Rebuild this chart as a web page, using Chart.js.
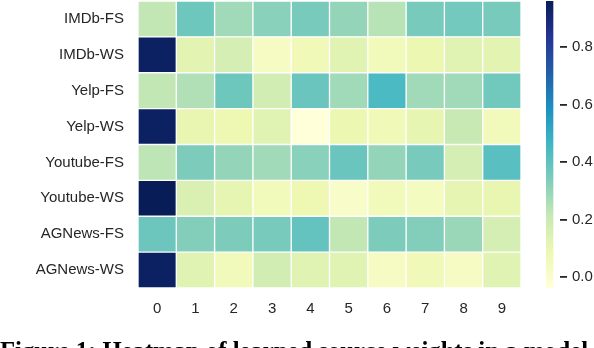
<!DOCTYPE html>
<html>
<head>
<meta charset="utf-8">
<script src="https://cdn.jsdelivr.net/npm/chart.js@4.4.1/dist/chart.umd.min.js"></script>
<style>
  html, body { margin: 0; padding: 0; background: #ffffff; overflow: hidden; }
  #wrap { position: relative; width: 594px; height: 348px; overflow: hidden; background: #fff; }
  canvas { position: absolute; left: 0; top: 0; }
  #caption { position: absolute; left: 0; top: 338.5px; white-space: nowrap;
    font-family: 'Liberation Serif', 'Times New Roman', serif; font-weight: bold;
    font-size: 24.7px; line-height: 24.7px; color: #000; }
</style>
</head>
<body>
<div id="wrap">
  <canvas id="heat" width="594" height="348"></canvas>
  <canvas id="cbar" width="594" height="348"></canvas>
  <div id="caption">Figure 1: Heatmap of learned source weights in a model learned</div>
</div>
<script>
// ---- data ----
const rowLabels = ['IMDb-FS', 'IMDb-WS', 'Yelp-FS', 'Yelp-WS', 'Youtube-FS', 'Youtube-WS', 'AGNews-FS', 'AGNews-WS'];
const colLabels = ['0', '1', '2', '3', '4', '5', '6', '7', '8', '9'];
const imdbFS    = [0.22, 0.37, 0.28, 0.32, 0.35, 0.30, 0.24, 0.35, 0.36, 0.35];
const imdbWS    = [0.94, 0.12, 0.17, 0.035, 0.063, 0.13, 0.057, 0.09, 0.13, 0.12];
const yelpFS    = [0.22, 0.25, 0.37, 0.18, 0.38, 0.28, 0.44, 0.28, 0.28, 0.365];
const yelpWS    = [0.94, 0.10, 0.08, 0.13, -0.037, 0.09, 0.07, 0.11, 0.21, 0.06];
const youtubeFS = [0.23, 0.34, 0.30, 0.28, 0.32, 0.38, 0.30, 0.35, 0.17, 0.41];
const youtubeWS = [0.959, 0.15, 0.11, 0.055, 0.08, 0.013, 0.055, 0.04, 0.11, 0.10];
const agnewsFS  = [0.375, 0.33, 0.34, 0.35, 0.39, 0.22, 0.34, 0.33, 0.29, 0.17];
const agnewsWS  = [0.94, 0.13, 0.055, 0.18, 0.13, 0.13, 0.035, 0.07, 0.035, 0.13];
const colorbarTicks = [0.0, 0.2, 0.4, 0.6, 0.8];

const matrix = [imdbFS, imdbWS, yelpFS, yelpWS, youtubeFS, youtubeWS, agnewsFS, agnewsWS];
const allVals = matrix.flat();
const vmin = Math.min(...allVals);
const vmax = Math.max(...allVals);

// ---- YlGnBu colormap ----
const stops = ['#ffffd9', '#edf8b1', '#c7e9b4', '#7fcdbb', '#41b6c4', '#1d91c0', '#225ea8', '#253494', '#081d58'];
function hex2rgb(h) { return [parseInt(h.substr(1, 2), 16), parseInt(h.substr(3, 2), 16), parseInt(h.substr(5, 2), 16)]; }
const stopRGB = stops.map(hex2rgb);
function cmap(v) {
  let t = (v - vmin) / (vmax - vmin);
  t = Math.max(0, Math.min(1, t));
  const p = t * (stopRGB.length - 1);
  const i = Math.min(Math.floor(p), stopRGB.length - 2);
  const f = p - i;
  const a = stopRGB[i], b = stopRGB[i + 1];
  const c = a.map((x, k) => Math.round(x + (b[k] - x) * f));
  return 'rgb(' + c.join(',') + ')';
}

const textColor = '#262626';
const tickFont = { family: "'Liberation Sans', Arial, sans-serif", size: 15 };
function noPad(s) { s.paddingTop = 0; s.paddingBottom = 0; s.paddingLeft = 0; s.paddingRight = 0; }

// ---- heatmap ----
const datasets = colLabels.map((c, j) => ({
  label: c,
  data: rowLabels.map(() => [j, j + 1]),
  backgroundColor: rowLabels.map((r, i) => cmap(matrix[i][j])),
  borderColor: '#ffffff',
  borderWidth: 1,
  borderSkipped: false,
  grouped: false,
  barPercentage: 1,
  categoryPercentage: 1
}));

new Chart(document.getElementById('heat'), {
  type: 'bar',
  data: { labels: rowLabels, datasets },
  options: {
    indexAxis: 'y',
    responsive: false,
    animation: false,
    devicePixelRatio: 1,
    layout: { padding: { top: 1, right: 73, left: 0, bottom: 0 } },
    plugins: { legend: { display: false }, tooltip: { enabled: false } },
    scales: {
      x: {
        type: 'linear', min: 0, max: colLabels.length, position: 'bottom',
        grid: { display: false, drawTicks: false },
        border: { display: false },
        afterBuildTicks: (s) => { s.ticks = colLabels.map((c, i) => ({ value: i + 0.5 })); },
        afterFit: (s) => { s.height = 60; noPad(s); },
        ticks: { color: textColor, font: tickFont, padding: 12, maxRotation: 0, autoSkip: false,
          callback: (v, i) => colLabels[i] }
      },
      y: {
        type: 'category',
        grid: { display: false, drawTicks: false },
        border: { display: false },
        afterFit: (s) => { s.width = 138; noPad(s); },
        ticks: { color: textColor, font: tickFont, padding: 14, autoSkip: false }
      }
    }
  }
});

// ---- colorbar ----
new Chart(document.getElementById('cbar'), {
  type: 'bar',
  data: {
    labels: [''],
    datasets: [{
      data: [[vmin, vmax]],
      backgroundColor: (ctx) => {
        const area = ctx.chart.chartArea;
        if (!area) return stops[0];
        const g = ctx.chart.ctx.createLinearGradient(0, area.bottom, 0, area.top);
        stops.forEach((s, i) => g.addColorStop(i / (stops.length - 1), s));
        return g;
      },
      borderWidth: 0,
      barPercentage: 1,
      categoryPercentage: 1
    }]
  },
  options: {
    responsive: false,
    animation: false,
    devicePixelRatio: 1,
    layout: { padding: { top: 1, left: 546, right: 0, bottom: 60 } },
    plugins: { legend: { display: false }, tooltip: { enabled: false } },
    scales: {
      x: { display: false, offset: false },
      y: {
        type: 'linear', position: 'right', min: vmin, max: vmax,
        grid: { drawOnChartArea: false, drawTicks: true, tickLength: 7, color: textColor, lineWidth: 1.8 },
        border: { display: false },
        afterBuildTicks: (s) => { s.ticks = colorbarTicks.map(v => ({ value: v })); },
        afterFit: (s) => { s.width = 34; noPad(s); },
        ticks: { color: textColor, font: tickFont, padding: 5, callback: (v) => v.toFixed(1) }
      }
    }
  }
});
</script>
</body>
</html>
